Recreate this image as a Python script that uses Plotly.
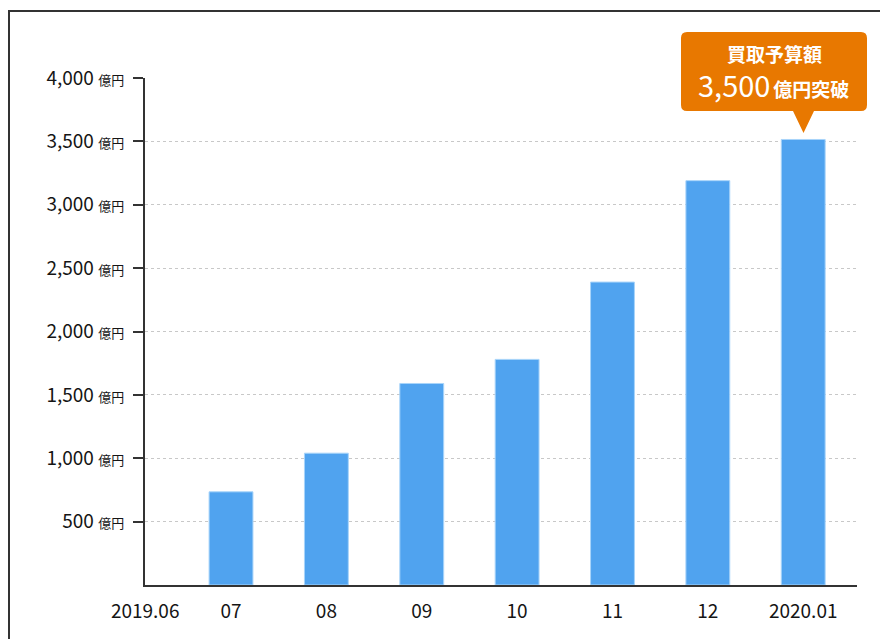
import plotly.graph_objects as go

categories = ["2019.06", "07", "08", "09", "10", "11", "12", "2020.01"]
values = [None, 735, 1040, 1590, 1780, 2390, 3190, 3515]
y_ticks = [500, 1000, 1500, 2000, 2500, 3000, 3500, 4000]
y_tick_labels = ["500", "1,000", "1,500", "2,000", "2,500", "3,000", "3,500", "4,000"]
unit = "億円"
callout_title = "買取予算額"
callout_value = "3,500"
callout_suffix = "億円突破"

# page body has an 8px margin; work in window pixel coordinates
OFF = 8
W, H = 888 - OFF, 639 - OFF
PL, PR, PT, PB = 145, 857, 78, 585  # plot area in window pixels
ML, MR, MT, MB = PL - OFF, (W + OFF) - PR, PT - OFF, (H + OFF) - PB
PW, PH = PR - PL, PB - PT

def px(x):
    return (x - PL) / PW

def py(y):
    return (PB - y) / PH

FONT = "Noto Sans CJK JP, Noto Sans, sans-serif"
TXT = "#151515"
xs = list(range(len(categories)))
x_start = 0.098
tickvals = [x_start + 0.002] + xs[1:]

fig = go.Figure()
fig.add_trace(go.Bar(
    x=xs[1:], y=values[1:], width=0.46,
    marker=dict(color="#50a3ef", line=dict(color="#a8d4fa", width=1)),
    hoverinfo="skip",
))

fig.update_layout(
    width=W, height=H,
    margin=dict(l=ML, r=MR, t=MT, b=MB, pad=0),
    paper_bgcolor="white", plot_bgcolor="white",
    showlegend=False,
    font=dict(family=FONT, color=TXT),
    xaxis=dict(
        range=[x_start, 7.564], tickmode="array", tickvals=tickvals, ticktext=categories,
        showgrid=False, zeroline=False, showline=True, linecolor="#333", linewidth=2,
        ticks="", ticklabelstandoff=8, tickfont=dict(size=19, color=TXT),
    ),
    yaxis=dict(
        range=[0, 4000], tickmode="array", tickvals=y_ticks,
        ticktext=[f"{t} <span style='font-size:13px'>{unit}</span>" for t in y_tick_labels],
        showgrid=True, gridcolor="#c8c8c8", griddash="dot", gridwidth=1,
        zeroline=False, showline=True, linecolor="#333", linewidth=2,
        ticks="outside", ticklen=10, tickwidth=2, tickcolor="#333",
        ticklabelstandoff=5,
        tickfont=dict(size=19, color=TXT),
    ),
)

# outer frame
fig.add_shape(type="rect", xref="paper", yref="paper",
              x0=px(9), x1=px(W + 40), y0=py(H + 40), y1=py(11),
              line=dict(color="#333", width=2), fillcolor="rgba(0,0,0,0)", layer="below")

# callout box with pointer
bx0, bx1, by0, by1, r = 681, 867, 32, 111, 6
tip_x, tip_y, half = 803.5, 133, 10.5

def P(x, y):
    return f"{px(x):.5f},{py(y):.5f}"

path = (f"M {P(bx0 + r, by0)} L {P(bx1 - r, by0)} Q {P(bx1, by0)} {P(bx1, by0 + r)} "
        f"L {P(bx1, by1 - r)} Q {P(bx1, by1)} {P(bx1 - r, by1)} "
        f"L {P(tip_x + half, by1)} L {P(tip_x, tip_y)} L {P(tip_x - half, by1)} "
        f"L {P(bx0 + r, by1)} Q {P(bx0, by1)} {P(bx0, by1 - r)} "
        f"L {P(bx0, by0 + r)} Q {P(bx0, by0)} {P(bx0 + r, by0)} Z")
fig.add_shape(type="path", xref="paper", yref="paper", path=path,
              fillcolor="#e87800", line=dict(width=0))

fig.add_annotation(xref="paper", yref="paper", x=px(774), y=py(54),
                   text=f"<b>{callout_title}</b>", showarrow=False,
                   font=dict(size=19, color="white", family=FONT),
                   xanchor="center", yanchor="middle")
fig.add_annotation(xref="paper", yref="paper", x=px(773), y=py(84),
                   text=f"<span style='font-size:29px'>{callout_value}</span> "
                        f"<span style='font-size:19px'><b>{callout_suffix}</b></span>",
                   showarrow=False, font=dict(color="white", family=FONT),
                   xanchor="center", yanchor="middle")

fig.write_html("out.html")
